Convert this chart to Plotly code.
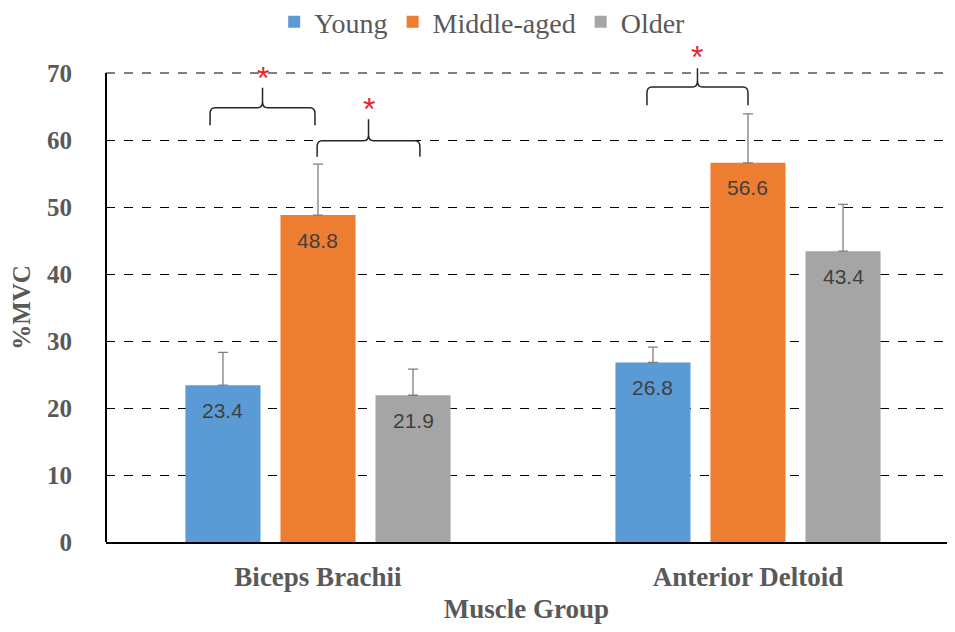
import plotly.graph_objects as go

categories = ["Biceps Brachii", "Anterior Deltoid"]
series_names = ["Young", "Middle-aged", "Older"]
young = [23.4, 26.8]
middle = [48.8, 56.6]
older = [21.9, 43.4]
young_err = [4.9, 2.3]
middle_err = [7.6, 7.3]
older_err = [3.9, 7.0]
colors = ["#5B9BD5", "#ED7D31", "#A5A5A5"]
y_ticks = [0, 10, 20, 30, 40, 50, 60, 70]

# significance brackets: (category index, left offset, right offset, end y, bar y, tip y, star y)
brackets = [
    (0, -0.251, -0.007, 62.2, 64.8, 67.8, 69.2),
    (0, -0.002, 0.237, 57.5, 59.9, 63.1, 64.6),
    (1, -0.235, 0.000, 65.2, 67.9, 70.7, 72.4),
]

values = [young, middle, older]
errors = [young_err, middle_err, older_err]

W, H = 939, 616
XR = [-0.493, 1.4628]
YR = [0, 70]
BARGAP = 0.337
SLOT = (1 - BARGAP) / 3
TICKFONT = dict(family="Liberation Serif", size=25, color="#595959", weight="bold")
XTICKFONT = dict(family="Liberation Serif", size=27, color="#595959", weight="bold")

fig = go.Figure()
for name, vals, errs, col in zip(series_names, values, errors, colors):
    fig.add_trace(go.Bar(
        name=name, x=list(range(len(categories))), y=vals, marker_color=col,
        marker_line_width=0,
        error_y=dict(type="data", array=errs, arrayminus=[0] * len(errs), symmetric=False,
                     color="#7F7F7F", thickness=1.3, width=5),
    ))

annotations = []
for si, vals in enumerate(values):
    for ci, v in enumerate(vals):
        annotations.append(dict(
            x=ci + (si - 1) * SLOT, y=v, xref="x", yref="y", text=f"{v:.1f}",
            showarrow=False, yshift=-25, xanchor="center", yanchor="middle",
            font=dict(family="Liberation Sans", size=21, color="#404040"),
        ))

def px_(v):
    return (v - XR[0]) / (XR[1] - XR[0])

def py_(v):
    return (v - YR[0]) / (YR[1] - YR[0])

shapes = []
for ci, lo, hi, ye, yb, yt, ys in brackets:
    xl, xr = px_(ci + lo), px_(ci + hi)
    xc = (xl + xr) / 2
    ye_, yb_, yt_ = py_(ye), py_(yb), py_(yt)
    dx = 0.006
    dy = py_(yb) - py_(yb - 0.9)
    path = (f"M{xl},{ye_} L{xl},{yb_-dy} Q{xl},{yb_} {xl+dx},{yb_} "
            f"L{xc-dx},{yb_} Q{xc},{yb_} {xc},{yb_+dy} L{xc},{yt_} "
            f"M{xc},{yb_+dy} Q{xc},{yb_} {xc+dx},{yb_} "
            f"L{xr-dx},{yb_} Q{xr},{yb_} {xr},{yb_-dy} L{xr},{ye_}")
    shapes.append(dict(type="path", xref="paper", yref="paper", path=path,
                       line=dict(color="#262626", width=1.5)))
    annotations.append(dict(x=xc, y=py_(ys), xref="paper", yref="paper", text="*",
                            showarrow=False, xanchor="center", yanchor="middle",
                            font=dict(family="Liberation Sans", size=32, color="#E8242B")))

# top gridline (at the range edge) and left axis line
shapes.append(dict(type="line", xref="paper", yref="paper", x0=0, x1=1, y0=1, y1=1,
                   line=dict(color="black", width=1, dash="dash"), layer="below"))
shapes.append(dict(type="line", xref="paper", yref="paper", x0=0, x1=0, y0=0, y1=1,
                   line=dict(color="black", width=2)))

fig.update_layout(
    width=W, height=H,
    margin=dict(l=98, r=0, t=65, b=82),
    paper_bgcolor="white", plot_bgcolor="white",
    barmode="group", bargap=BARGAP, bargroupgap=0.21,
    showlegend=True,
    legend=dict(orientation="h", xref="container", x=0.505, xanchor="center",
                yref="container", y=0.977, yanchor="middle",
                font=dict(family="Liberation Serif", size=28, color="#595959"),
                itemwidth=30, traceorder="normal"),
    annotations=annotations,
    shapes=shapes,
    xaxis=dict(range=XR, tickmode="array", tickvals=list(range(len(categories))),
               ticktext=categories, tickfont=XTICKFONT, automargin=False,
               showgrid=False, zeroline=False, showline=True, linecolor="black", linewidth=2,
               ticks="", ticklabelstandoff=10,
               title=dict(text="Muscle Group", standoff=19, font=XTICKFONT)),
    yaxis=dict(range=YR, tickmode="array", tickvals=y_ticks, tickfont=TICKFONT, automargin=False,
               showgrid=True, gridcolor="black", griddash="dash", gridwidth=1,
               zeroline=False, showline=False, ticks="", ticklabelstandoff=33,
               title=dict(text="%MVC", standoff=15, font=TICKFONT)),
)

fig.write_html("out.html")
